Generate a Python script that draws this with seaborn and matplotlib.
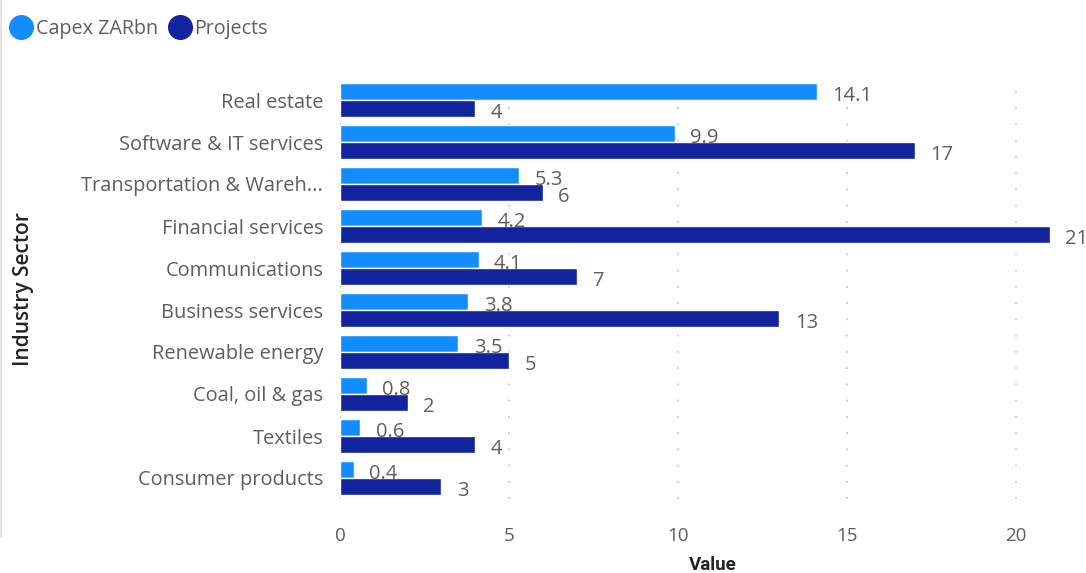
import matplotlib
matplotlib.use("Agg")
import matplotlib.pyplot as plt
from matplotlib.lines import Line2D
import seaborn as sns
import pandas as pd

sectors = [
    "Real estate",
    "Software & IT services",
    "Transportation & Wareh...",
    "Financial services",
    "Communications",
    "Business services",
    "Renewable energy",
    "Coal, oil & gas",
    "Textiles",
    "Consumer products",
]
capex_zarbn = [14.1, 9.9, 5.3, 4.2, 4.1, 3.8, 3.5, 0.8, 0.6, 0.4]
projects = [4, 17, 6, 21, 7, 13, 5, 2, 4, 3]
series_names = ["Capex ZARbn", "Projects"]
series_colors = ["#118DFF", "#12239E"]
x_ticks = [0, 5, 10, 15, 20]

df = pd.DataFrame({
    "Industry Sector": sectors * 2,
    "Series": [series_names[0]] * len(sectors) + [series_names[1]] * len(sectors),
    "Value": capex_zarbn + projects,
})

sns.set_theme(style="white")
plt.rcParams["font.family"] = ["Open Sans", "DejaVu Sans"]
text_gray = "#605E5C"

fig = plt.figure(figsize=(10.86, 5.73), dpi=100)
W, H = 1086, 573
ax = fig.add_axes([340 / W, 1 - 499 / H, (1086 - 340) / W, (499 - 79) / H])

sns.barplot(
    data=df, y="Industry Sector", x="Value", hue="Series",
    order=sectors, hue_order=series_names, palette=series_colors,
    orient="h", width=0.81, saturation=1, ax=ax, legend=False,
)

ax.set_xlim(0, 22.07)
ax.set_ylim(len(sectors) - 0.5, -0.5)
ax.set_xticks(x_ticks)
ax.set_xticklabels([str(t) for t in x_ticks])
ax.xaxis.grid(True, color="#C8C6C4", linestyle=(0, (1, 8)), linewidth=1.3)
ax.yaxis.grid(False)
ax.set_axisbelow(True)
for s in ax.spines.values():
    s.set_visible(False)
ax.tick_params(axis="x", length=0, pad=20, labelsize=13.5, labelcolor=text_gray)
ax.tick_params(axis="y", length=0, pad=12, labelsize=14.4, labelcolor=text_gray)

ax.set_xlabel("Value", fontsize=13.5, color="#252423", fontweight="bold",
              family=["Roboto", "DejaVu Sans"], labelpad=8)
ax.set_ylabel("Industry Sector", fontsize=15, color="#252423",
              fontweight="semibold", labelpad=0)
ax.yaxis.set_label_coords(-306 / 746, 0.5)

# value labels after each bar
for container in ax.containers:
    ax.bar_label(container, labels=[f"{v:g}" for v in container.datavalues],
                 padding=11, fontsize=14.5, color=text_gray,
                 label_type="edge")
for t in ax.texts:
    t.set_va("center")
    t.xyann = (t.xyann[0], -3)

# legend with round markers
handles = [Line2D([0], [0], marker="o", linestyle="", markersize=17,
                  markerfacecolor=c, markeredgecolor=c) for c in series_colors]
fig.legend(handles, series_names, loc="upper left", bbox_to_anchor=(-0.006, 0.995),
           ncol=2, frameon=False, fontsize=14.2, labelcolor=text_gray,
           handletextpad=0.15, columnspacing=0.5, borderaxespad=0.4,
           handlelength=1.2)

# thin border at the left edge of the visual
fig.add_artist(Line2D([1 / W, 1 / W], [1 - 537 / H, 1.0], color="#E1DFDD",
                      linewidth=1.2, transform=fig.transFigure))

fig.savefig("out.png", dpi=100)
